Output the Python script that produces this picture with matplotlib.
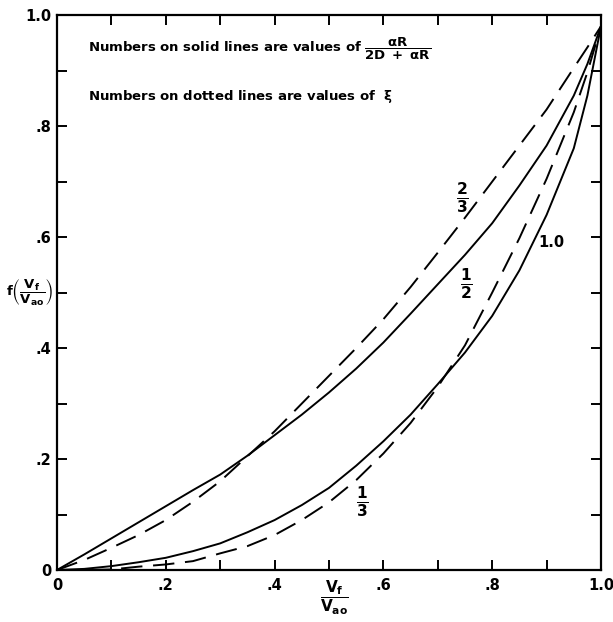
import matplotlib
matplotlib.use("Agg")
import matplotlib.pyplot as plt
import numpy as np

plt.rcParams['font.family'] = ['DejaVu Sans']
plt.rcParams['mathtext.fontset'] = 'dejavusans'
plt.rcParams['mathtext.default'] = 'bf'

# values
x = [0, 0.05, 0.1, 0.15, 0.2, 0.25, 0.3, 0.35, 0.4, 0.45, 0.5,
     0.55, 0.6, 0.65, 0.7, 0.75, 0.8, 0.85, 0.9, 0.95, 0.975, 1.0]

solid_half = [0, 0.028, 0.057, 0.086, 0.115, 0.144, 0.172, 0.206, 0.243, 0.28, 0.32,
              0.363, 0.41, 0.462, 0.515, 0.568, 0.625, 0.693, 0.765, 0.855, 0.912, 0.98]
solid_one = [0, 0.002, 0.007, 0.014, 0.022, 0.034, 0.048, 0.068, 0.09, 0.117, 0.148,
             0.188, 0.232, 0.28, 0.335, 0.392, 0.458, 0.54, 0.64, 0.76, 0.855, 0.98]
dash_two_thirds = [0, 0.018, 0.04, 0.063, 0.09, 0.123, 0.16, 0.205, 0.25, 0.30, 0.35,
                   0.40, 0.452, 0.51, 0.572, 0.635, 0.70, 0.765, 0.83, 0.905, 0.942, 0.98]
dash_one_third = [0, 0.0, 0.001, 0.006, 0.01, 0.016, 0.03, 0.043, 0.063, 0.09, 0.122,
                  0.162, 0.21, 0.265, 0.33, 0.405, 0.50, 0.598, 0.705, 0.825, 0.897, 0.98]

major_ticks = [0, 0.2, 0.4, 0.6, 0.8, 1.0]
tick_labels = ['0', '.2', '.4', '.6', '.8', '1.0']

fig = plt.figure(figsize=(6.13, 6.22), dpi=100)
ax = fig.add_axes([0.093, 0.0836, 0.8874, 0.892])

dash = (0, (11, 5.5))
ax.plot(x, solid_half, color='black', lw=1.4)
ax.plot(x, solid_one, color='black', lw=1.4)
ax.plot(x, dash_two_thirds, color='black', lw=1.4, linestyle=dash)
ax.plot(x, dash_one_third, color='black', lw=1.4, linestyle=dash)

ax.set_xlim(0, 1.0)
ax.set_ylim(0, 1.0)
ax.set_xticks(major_ticks)
ax.set_xticklabels(tick_labels)
ax.set_yticks(major_ticks)
ax.set_yticklabels(tick_labels)
ax.set_xticks(np.arange(0.1, 1.0, 0.2), minor=True)
ax.set_yticks(np.arange(0.1, 1.0, 0.2), minor=True)
ax.tick_params(which='both', direction='in', top=True, right=True,
               length=7, width=1.4, labelsize=10.5)
ax.tick_params(axis='x', pad=6)
ax.tick_params(axis='y', pad=4)
for lab in ax.get_xticklabels() + ax.get_yticklabels():
    lab.set_fontweight('bold')
for sp in ax.spines.values():
    sp.set_linewidth(1.6)

# curve labels
ax.text(0.746, 0.672, r'$\frac{2}{3}$', fontsize=16, ha='center', va='center')
ax.text(0.752, 0.517, r'$\frac{1}{2}$', fontsize=16, ha='center', va='center')
ax.text(0.908, 0.591, '1.0', fontsize=10.5, fontweight='bold', ha='center', va='center')
ax.text(0.561, 0.123, r'$\frac{1}{3}$', fontsize=16, ha='center', va='center')

# notes
ax.text(0.057, 0.94, r'Numbers on solid lines are values of $\dfrac{\alpha R}{2D\ +\ \alpha R}$',
        fontsize=9.5, fontweight='bold', ha='left', va='center')
ax.text(0.057, 0.853, r'Numbers on dotted lines are values of  $\xi$',
        fontsize=9.5, fontweight='bold', ha='left', va='center')

# axis labels
ax.text(0.51, -0.05, r'$\dfrac{V_f}{V_{ao}}$', fontsize=11, ha='center', va='center',
        transform=ax.transAxes)
ax.text(-0.006, 0.5, r'$f\left(\dfrac{V_f}{V_{ao}}\right)$', fontsize=9.5, ha='right',
        va='center', transform=ax.transAxes)

fig.savefig('out.png', dpi=100)
